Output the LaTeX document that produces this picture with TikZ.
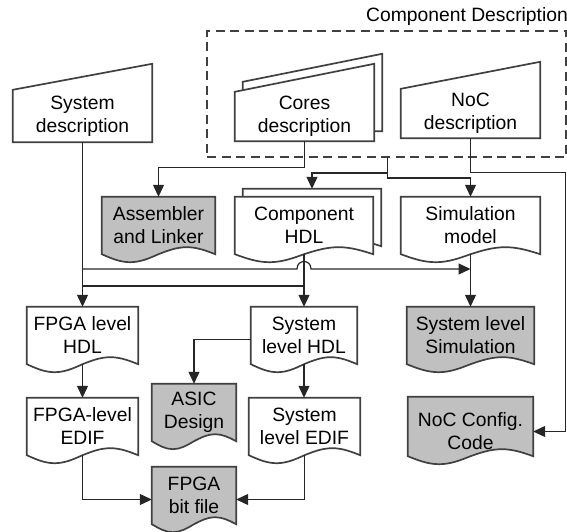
\documentclass[tikz,border=0pt]{standalone}
\usepackage{fontspec}
\setmainfont{Liberation Sans}
\usetikzlibrary{arrows.meta,calc,backgrounds}

\definecolor{docgray}{RGB}{192,192,192}

\newcommand{\inputshape}[4]{%
  \draw[outline,#1] ($(#2.south west)+#4$) -- ($(#2.north west)+#4$)
    -- ($(#2.north east)+#4+(0pt,#3)$) -- ($(#2.south east)+#4$) -- cycle;}
\newcommand{\docshape}[3]{%
  \draw[outline,#1] ($(#2.south west)+#3$) -- ($(#2.north west)+#3$)
    -- ($(#2.north east)+#3$) -- ($(#2.south east)+#3$)
    sin ($(#2.south east)!.25!(#2.south west)+#3+(0pt,7pt)$)
    cos ($(#2.south east)!.5!(#2.south west)+#3$)
    sin ($(#2.south east)!.75!(#2.south west)+#3+(0pt,-8pt)$)
    cos ($(#2.south west)+#3$) -- cycle;}

\begin{document}
\begin{tikzpicture}[x=1pt,y=-1pt,
  font=\fontsize{19.3}{23}\selectfont,
  outline/.style={line width=1.7pt,draw=black!75},
  box/.style={inner sep=0pt,align=center,minimum width=#1,minimum height=57pt},
  line/.style={draw=black!85,line width=1.2pt},
  arr/.style={line,-{Triangle[length=12pt,width=11pt]}}]
  \useasboundingbox (0,0) rectangle (567,532);

  \node[draw=black!75,line width=1.3pt,dash pattern=on 9pt off 5.5pt,
    inner sep=0pt,minimum width=359pt,minimum height=126pt] (compbox) at (386.5,94) {};
  \node[anchor=west,inner sep=0pt] (complabel) at (366,17) {Component Description};
  \coordinate (compout) at (387.5,157);

  \node[box=139pt,minimum height=52pt] (sysdesc) at (82.5,116) {System\\description};
  \node[box=139pt,minimum height=49pt] (cores) at (304.5,116.5) {Cores\\description};
  \node[box=139pt,minimum height=49pt] (nocdesc) at (470.5,113.5) {NoC\\description};

  \node[box=113pt] (asm) at (158.5,225.5) {Assembler\\and Linker};
  \node[box=138pt] (comphdl) at (304,225.5) {Component\\HDL};
  \node[box=139pt] (simmodel) at (470.5,225.5) {Simulation\\model};

  \node[box=111pt] (fpgahdl) at (82.5,335.5) {FPGA level\\HDL};
  \node[box=106pt] (syshdl) at (304,335.5) {System\\level HDL};
  \node[box=127pt] (syssim) at (470.5,335.5) {System level\\Simulation};

  \node[box=84pt] (asic) at (194,412.5) {ASIC\\Design};
  \node[box=111pt] (fpgaedif) at (82.5,426.5) {FPGA-level\\EDIF};
  \node[box=111pt] (sysedif) at (304.5,426.5) {System\\level EDIF};
  \node[box=125pt,minimum height=59pt] (nocconf) at (470.5,431.5) {NoC Config.\\Code};
  \node[box=84pt] (fpgabit) at (194,495.5) {FPGA\\bit file};

  \begin{scope}[on background layer]
    \inputshape{fill=white}{sysdesc}{26pt}{(0pt,0pt)}
    \inputshape{fill=white}{cores}{28pt}{(8pt,10pt)}
    \inputshape{fill=white}{cores}{28pt}{(0pt,0pt)}
    \inputshape{fill=white}{nocdesc}{27pt}{(0pt,0pt)}
    \docshape{fill=docgray}{asm}{(0pt,0pt)}
    \docshape{fill=white}{comphdl}{(8pt,8pt)}
    \docshape{fill=white}{comphdl}{(0pt,0pt)}
    \docshape{fill=white}{simmodel}{(0pt,0pt)}
    \docshape{fill=white}{fpgahdl}{(0pt,0pt)}
    \docshape{fill=white}{syshdl}{(0pt,0pt)}
    \docshape{fill=docgray}{syssim}{(0pt,0pt)}
    \docshape{fill=docgray}{asic}{(0pt,0pt)}
    \docshape{fill=white}{fpgaedif}{(0pt,0pt)}
    \docshape{fill=white}{sysedif}{(0pt,0pt)}
    \docshape{fill=docgray}{nocconf}{(0pt,5pt)}
    \docshape{fill=docgray}{fpgabit}{(0pt,0pt)}
  \end{scope}

  \coordinate (simbus) at (82.5,269);
  \coordinate (hdlbus) at (82.5,286);

  \draw[arr] (cores.south) -- ++(0,26) -| (asm.north);
  \draw[arr] (compout) -- ++(0,21) -| (simmodel.north);
  \draw[arr] (compout) ++(0,16) -| ([shift={(8pt,8pt)}]comphdl.north);
  \draw[arr] (nocdesc.south) -- ++(0,34) -- ++(95,0) |- (nocconf.east);
  \draw[arr] (sysdesc.south) -- (fpgahdl.north);
  \draw[arr] (simbus) -- (297,269) .. controls (297,259) and (311,259) .. (311,269)
    -- (simbus -| simmodel.south);
  \draw[line] (hdlbus) -- (hdlbus -| comphdl.south);
  \draw[arr] (comphdl.south) -- (syshdl.north);
  \draw[arr] (simmodel.south) -- (syssim.north);
  \draw[arr] (fpgahdl.south) -- (fpgaedif.north);
  \draw[arr] ([yshift=-4pt]syshdl.west) -| (asic.north);
  \draw[arr] (syshdl.south) -- (syshdl.south |- sysedif.north);
  \draw[arr] (fpgaedif.south) |- ([yshift=-4pt]fpgabit.west);
  \draw[arr] (sysedif.south) |- ([yshift=-4pt]fpgabit.east);
\end{tikzpicture}
\end{document}
